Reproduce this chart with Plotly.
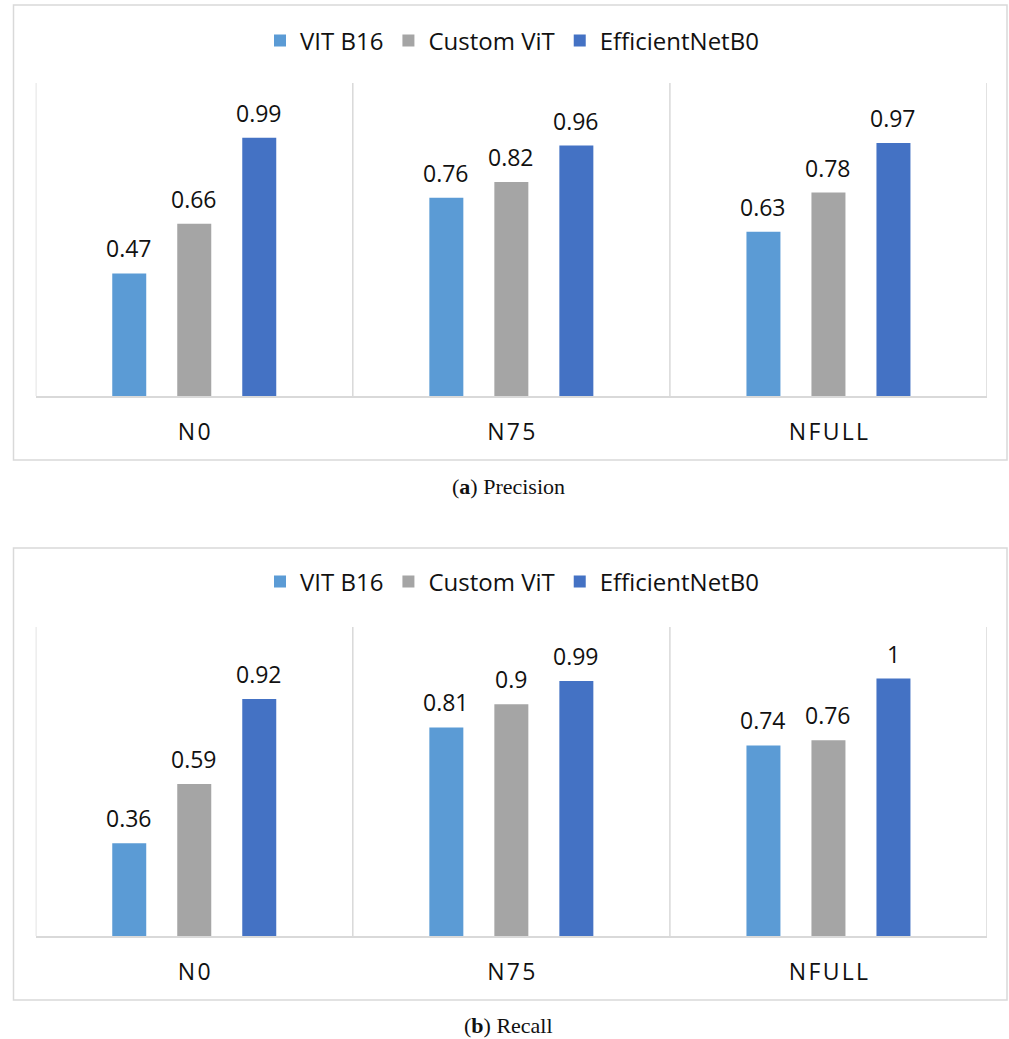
import plotly.graph_objects as go

# Datasets / categories
categories = ["N0", "N75", "NFULL"]
tick_text = ["N\u200a0", "N\u200a7\u200a5", "N\u200aF\u200aU\u200aL\u200aL"]
models = ["VIT B16", "Custom ViT", "EfficientNetB0"]
colors = ["#5b9bd5", "#a5a5a5", "#4472c4"]

# Precision per model (N0, N75, NFULL)
precision_vit = [0.47, 0.76, 0.63]
precision_custom = [0.66, 0.82, 0.78]
precision_effnet = [0.99, 0.96, 0.97]

# Recall per model (N0, N75, NFULL)
recall_vit = [0.36, 0.81, 0.74]
recall_custom = [0.59, 0.90, 0.76]
recall_effnet = [0.92, 0.99, 1.00]

precision = [precision_vit, precision_custom, precision_effnet]
recall = [recall_vit, recall_custom, recall_effnet]

W, H = 1009, 1039
FONT = "Open Sans"
GRID = "#d9d9d9"
INK = "#111111"
BARGAP = 0.385
BARGROUPGAP = 0.477


def py(px):
    """Convert a pixel row (from top) into paper coordinates."""
    return 1 - px / H


fig = go.Figure()

panels = [
    # (values, xaxis, yaxis, legend)
    (precision, "x", "y", "legend"),
    (recall, "x2", "y2", "legend2"),
]

annotations = []
slot = (1 - BARGAP) / len(models)  # width of one bar slot inside a group
for values, xa, ya, leg in panels:
    for k, (name, vals, col) in enumerate(zip(models, values, colors)):
        xs = list(range(len(categories)))
        fig.add_trace(go.Bar(
            x=xs, y=vals, name=name,
            marker=dict(color=col, line=dict(width=0)),
            xaxis=xa, yaxis=ya, legend=leg,
        ))
        # value labels sitting above each bar
        offset = (k - (len(models) - 1) / 2) * slot
        for xi, v in zip(xs, vals):
            annotations.append(dict(
                x=xi + offset, y=v, xref=xa, yref=ya, text=f"{v:g}",
                showarrow=False, xanchor="center", yanchor="bottom", yshift=7,
                font=dict(family=FONT, size=23, color=INK),
            ))

xdom = [35.7 / W, 987 / W]
axis_common = dict(
    tickmode="array", tickvals=[0, 1, 2], ticktext=tick_text,
    range=[-0.5, 2.5], showgrid=False, zeroline=False,
    showline=True, linecolor=GRID, linewidth=1.5,
    ticks="outside", ticklen=15, tickcolor="rgba(0,0,0,0)",
    tickfont=dict(family=FONT, size=23, color=INK),
    fixedrange=True,
)
yaxis_common = dict(range=[0, 1.2], visible=False, fixedrange=True)
legend_common = dict(orientation="h", x=512 / W, xanchor="center", yanchor="middle",
                     font=dict(family=FONT, size=24, color=INK),
                     itemsizing="constant", bgcolor="rgba(0,0,0,0)", itemwidth=30)

fig.update_layout(
    width=W, height=H,
    margin=dict(l=0, r=0, t=0, b=0),
    paper_bgcolor="white", plot_bgcolor="white",
    barmode="group", bargap=BARGAP, bargroupgap=BARGROUPGAP,
    xaxis=dict(domain=xdom, anchor="y", **axis_common),
    yaxis=dict(domain=[py(396), py(83)], anchor="x", **yaxis_common),
    xaxis2=dict(domain=xdom, anchor="y2", **axis_common),
    yaxis2=dict(domain=[py(936), py(627)], anchor="x2", **yaxis_common),
    legend=dict(y=py(41), **legend_common),
    legend2=dict(y=py(582), **legend_common),
    showlegend=True,
)

shapes = []
# Outer chart frames
for top, bottom in [(5, 460), (548, 1000)]:
    shapes.append(dict(type="rect", xref="paper", yref="paper",
                       x0=13.5 / W, x1=1007 / W, y0=py(bottom), y1=py(top),
                       line=dict(color=GRID, width=1.5), fillcolor="rgba(0,0,0,0)",
                       layer="below"))
# Category separators
for xa, ya in [("x", "y"), ("x2", "y2")]:
    for xb in [-0.5, 0.5, 1.5, 2.5]:
        shapes.append(dict(type="line", xref=xa, yref=f"{ya} domain",
                           x0=xb, x1=xb, y0=0, y1=1,
                           line=dict(color=GRID, width=1.5), layer="below"))

# Sub-captions
for label, name, ypx in [("a", "Precision", 487), ("b", "Recall", 1025)]:
    annotations.append(dict(text=f"(<b>{label}</b>) {name}", xref="paper", yref="paper",
                            x=508 / W, y=py(ypx), showarrow=False,
                            xanchor="center", yanchor="middle",
                            font=dict(family="Liberation Serif", size=22, color=INK)))

fig.update_layout(shapes=shapes, annotations=annotations)

fig.write_html("out.html")
